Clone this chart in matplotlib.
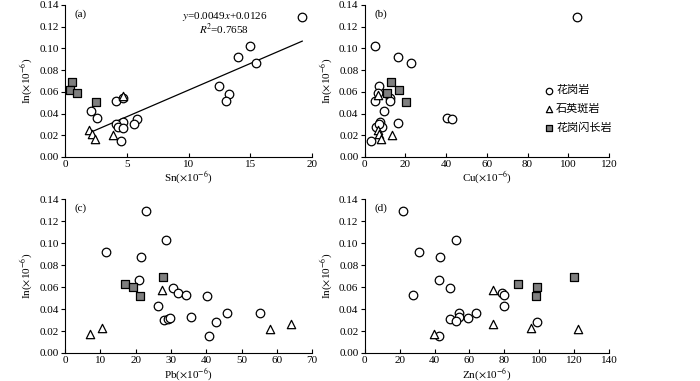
import matplotlib
matplotlib.use("Agg")
import matplotlib.pyplot as plt
import numpy as np

plt.rcParams['font.family'] = ['Liberation Serif', 'Noto Sans CJK SC']
plt.rcParams['mathtext.fontset'] = 'stix'
plt.rcParams['font.size'] = 8

# (a) Sn vs In
sn_granite = [19.2, 15.0, 14.0, 15.45, 12.45, 13.3, 13.0, 4.1, 4.7, 2.1, 2.6, 5.8, 5.6, 4.66, 4.1, 4.3, 4.7, 4.5]
in_sn_granite = [0.129, 0.102, 0.092, 0.087, 0.065, 0.058, 0.052, 0.052, 0.054, 0.042, 0.036, 0.035, 0.030, 0.032, 0.030, 0.028, 0.027, 0.0145]
sn_porphyry = [1.94, 2.2, 2.4, 3.9, 4.7]
in_sn_porphyry = [0.025, 0.021, 0.017, 0.020, 0.056]
sn_diorite = [0.6, 0.43, 0.97, 2.5]
in_sn_diorite = [0.069, 0.062, 0.059, 0.051]
fit_slope, fit_intercept = 0.0049, 0.0126
fit_range = [2.3, 19.2]

# (b) Cu vs In
cu_granite = [104.5, 5.2, 16.5, 22.9, 6.9, 6.5, 4.9, 12.3, 12.6, 9.7, 40.6, 42.9, 7.4, 5.4, 8.5, 16.4, 3.3, 6.9]
in_cu_granite = [0.129, 0.1025, 0.092, 0.087, 0.065, 0.059, 0.052, 0.054, 0.052, 0.042, 0.036, 0.035, 0.032, 0.028, 0.028, 0.031, 0.0145, 0.030]
cu_porphyry = [6.4, 6.6, 6.9, 7.9, 13.3]
in_cu_porphyry = [0.057, 0.025, 0.021, 0.017, 0.020]
cu_diorite = [12.9, 11.0, 17.0, 20.3]
in_cu_diorite = [0.069, 0.059, 0.062, 0.051]

# (c) Pb vs In
pb_granite = [22.8, 28.5, 11.6, 21.4, 20.9, 30.5, 32.1, 34.4, 40.2, 26.2, 35.6, 45.8, 55.1, 28.1, 29.1, 29.8, 42.7, 40.8]
in_pb_granite = [0.129, 0.1026, 0.092, 0.0875, 0.066, 0.059, 0.0547, 0.053, 0.052, 0.043, 0.033, 0.036, 0.0367, 0.0298, 0.031, 0.032, 0.0285, 0.0158]
pb_porphyry = [7.0, 10.5, 27.4, 58.2, 64.0]
in_pb_porphyry = [0.0176, 0.0228, 0.0574, 0.0216, 0.0267]
pb_diorite = [17.0, 19.3, 21.1, 27.8]
in_pb_diorite = [0.0629, 0.0598, 0.0516, 0.069]

# (d) Zn vs In
zn_granite = [21.8, 52.3, 31.1, 43.0, 42.4, 27.5, 49.1, 78.9, 79.7, 80.0, 54.0, 54.2, 64.0, 48.9, 52.5, 59.4, 98.5, 42.6]
in_zn_granite = [0.129, 0.1026, 0.092, 0.0875, 0.066, 0.0525, 0.059, 0.0547, 0.053, 0.043, 0.0367, 0.033, 0.036, 0.031, 0.029, 0.0316, 0.0285, 0.0158]
zn_porphyry = [39.7, 73.3, 73.3, 95.1, 122.4]
in_zn_porphyry = [0.0176, 0.0574, 0.0261, 0.0225, 0.0216]
zn_diorite = [87.7, 98.5, 98.0, 120.1]
in_zn_diorite = [0.0629, 0.0598, 0.0516, 0.069]

labels = ['花岗岩', '石英斑岩', '花岗闪长岩']

fig = plt.figure(figsize=(7, 3.81), dpi=100)
ax_a = fig.add_axes([0.0929, 0.588, 0.353, 0.399])
ax_b = fig.add_axes([0.521, 0.588, 0.349, 0.399])
ax_c = fig.add_axes([0.0929, 0.0735, 0.353, 0.404])
ax_d = fig.add_axes([0.521, 0.0735, 0.349, 0.404])

panels = [
    (ax_a, '(a)', 'Sn', 20, 5, (sn_granite, in_sn_granite), (sn_porphyry, in_sn_porphyry), (sn_diorite, in_sn_diorite)),
    (ax_b, '(b)', 'Cu', 120, 20, (cu_granite, in_cu_granite), (cu_porphyry, in_cu_porphyry), (cu_diorite, in_cu_diorite)),
    (ax_c, '(c)', 'Pb', 70, 10, (pb_granite, in_pb_granite), (pb_porphyry, in_pb_porphyry), (pb_diorite, in_pb_diorite)),
    (ax_d, '(d)', 'Zn', 140, 20, (zn_granite, in_zn_granite), (zn_porphyry, in_zn_porphyry), (zn_diorite, in_zn_diorite)),
]

handles = []
for ax, tag, elem, xmax, xstep, gr, po, di in panels:
    h1 = ax.scatter(*gr, s=38, marker='o', facecolor='white', edgecolor='black', linewidth=0.9, zorder=3)
    h2 = ax.scatter(*po, s=36, marker='^', facecolor='white', edgecolor='black', linewidth=0.9, zorder=3)
    h3 = ax.scatter(*di, s=34, marker='s', facecolor='#7f7f7f', edgecolor='black', linewidth=0.9, zorder=3)
    if not handles:
        handles = [h1, h2, h3]
    ax.set_xlim(0, xmax)
    ax.set_ylim(0, 0.14)
    ax.set_xticks(np.arange(0, xmax + 1, xstep))
    ax.set_yticks(np.arange(0, 0.141, 0.02))
    ax.yaxis.set_major_formatter(plt.FormatStrFormatter('%.2f'))
    ax.spines['top'].set_visible(False)
    ax.spines['right'].set_visible(False)
    ax.tick_params(axis='y', direction='out', length=3, width=0.8, labelsize=8, pad=1.5)
    ax.tick_params(axis='x', direction='in', length=3, width=0.8, labelsize=8, pad=2)
    ax.set_xlabel(elem + r'($\times$10$^{-6}$)', fontsize=8, labelpad=1)
    ax.set_ylabel(r'In($\times$10$^{-6}$)', fontsize=8, labelpad=3)
    ax.text(0.04, 0.94, tag, transform=ax.transAxes, fontsize=8, va='center')

# fitted line in (a)
fx = np.array(fit_range)
ax_a.plot(fx, fit_slope * fx + fit_intercept, color='black', linewidth=0.9, zorder=2)
ax_a.text(0.645, 0.925, r'$y$=0.0049$x$+0.0126', transform=ax_a.transAxes,
          ha='center', va='center', fontsize=8)
ax_a.text(0.645, 0.84, r'$R$$^2$=0.7658', transform=ax_a.transAxes,
          ha='center', va='center', fontsize=8)

ax_b.legend(handles, labels, loc='center left', bbox_to_anchor=(0.715, 0.315),
            frameon=False, fontsize=8, handletextpad=0.2, handlelength=0.8,
            labelspacing=0.75, markerscale=0.75, borderpad=0)

fig.savefig('out.png', dpi=100)
